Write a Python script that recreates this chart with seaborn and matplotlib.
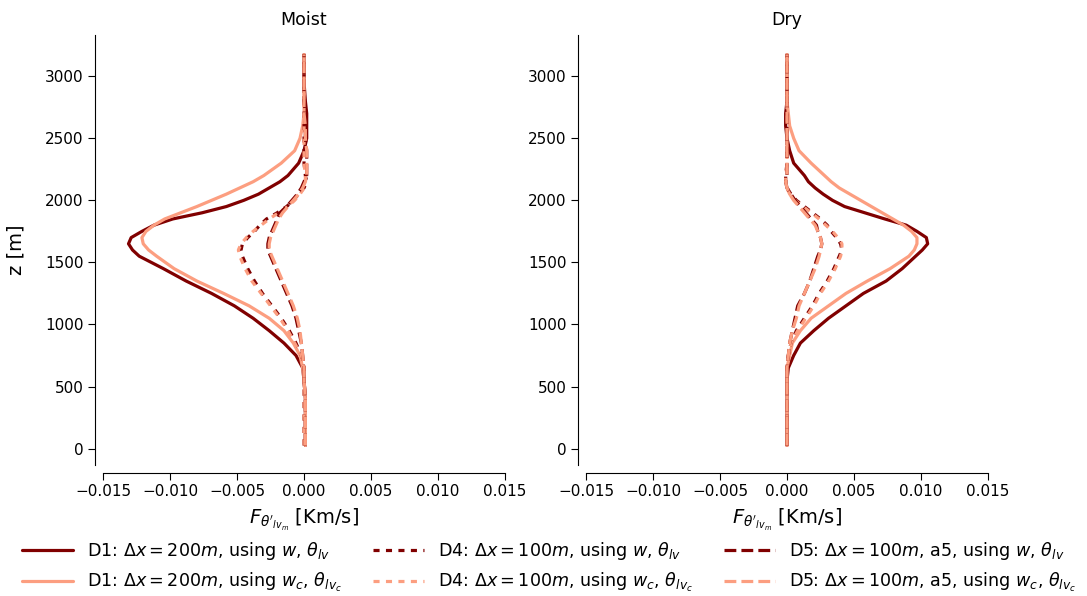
import numpy as np
import pandas as pd
import matplotlib
matplotlib.use("Agg")
import matplotlib.pyplot as plt
import seaborn as sns

# Heights [m]
Z = [25, 200, 400, 550, 650, 750, 850, 950, 1050, 1150, 1250, 1350, 1450, 1550,
     1600, 1650, 1700, 1750, 1800, 1850, 1900, 1950, 2000, 2050, 2100, 2150,
     2200, 2300, 2400, 2500, 2600, 2700, 2800, 2950, 3100, 3175]

# Moist panel
moist_D1_w = [0.0001, 0.0001, 0.0001, 0.0000, -0.0001, -0.0006, -0.0015, -0.0026, -0.0038,
              -0.0052, -0.0069, -0.0088, -0.0105, -0.0123, -0.0128, -0.0131, -0.0129, -0.0121,
              -0.0112, -0.0098, -0.0076, -0.0058, -0.0045, -0.0034, -0.0026, -0.0018, -0.0012,
              -0.0004, 0.0000, 0.0002, 0.0002, 0.0002, 0.0001, 0.0000, 0.0000, 0.0000]
moist_D1_wc = [0.0001, 0.0001, 0.0001, 0.0000, -0.0001, -0.0003, -0.0008, -0.0015, -0.0026,
               -0.0041, -0.0060, -0.0080, -0.0097, -0.0110, -0.0116, -0.0120, -0.0121, -0.0118,
               -0.0112, -0.0104, -0.0092, -0.0080, -0.0069, -0.0058, -0.0048, -0.0038, -0.0030,
               -0.0017, -0.0007, -0.0003, -0.0001, 0.0000, 0.0000, 0.0000, 0.0000, 0.0000]
moist_D4_w = [0.0000, 0.0000, 0.0000, 0.0000, 0.0000, -0.0002, -0.0006, -0.0011, -0.0017,
              -0.0024, -0.0031, -0.0037, -0.0042, -0.0046, -0.0047, -0.0046, -0.0042, -0.0037,
              -0.0033, -0.0028, -0.0020, -0.0013, -0.0008, -0.0004, 0.0000, 0.0002, 0.0001,
              0.0000, 0.0000, 0.0000, 0.0000, 0.0000, 0.0000, 0.0000, 0.0000, 0.0000]
moist_D4_wc = [0.0000, 0.0000, 0.0000, 0.0000, 0.0000, -0.0002, -0.0007, -0.0012, -0.0018,
               -0.0025, -0.0032, -0.0039, -0.0044, -0.0048, -0.0049, -0.0047, -0.0043, -0.0038,
               -0.0032, -0.0026, -0.0019, -0.0012, -0.0007, -0.0003, 0.0000, 0.0001, 0.0001,
               0.0000, 0.0000, 0.0000, 0.0000, 0.0000, 0.0000, 0.0000, 0.0000, 0.0000]
moist_D5_w = [0.0001, 0.0001, 0.0001, 0.0000, 0.0000, -0.0001, -0.0002, -0.0004, -0.0006,
              -0.0009, -0.0013, -0.0017, -0.0021, -0.0025, -0.0027, -0.0027, -0.0026, -0.0024,
              -0.0022, -0.0020, -0.0018, -0.0013, -0.0009, -0.0005, -0.0002, 0.0000, 0.0002,
              0.0002, 0.0002, 0.0001, 0.0001, 0.0001, 0.0000, 0.0000, 0.0000, 0.0000]
moist_D5_wc = [0.0001, 0.0001, 0.0001, 0.0000, 0.0000, -0.0001, -0.0002, -0.0003, -0.0005,
               -0.0008, -0.0012, -0.0016, -0.0020, -0.0024, -0.0026, -0.0026, -0.0025, -0.0023,
               -0.0021, -0.0019, -0.0016, -0.0012, -0.0008, -0.0004, -0.0001, 0.0001, 0.0002,
               0.0002, 0.0002, 0.0001, 0.0001, 0.0000, 0.0000, 0.0000, 0.0000, 0.0000]

# Dry panel
dry_D1_w = [0.0000, 0.0000, 0.0000, 0.0000, 0.0001, 0.0005, 0.0010, 0.0020, 0.0031,
            0.0044, 0.0057, 0.0074, 0.0086, 0.0096, 0.0101, 0.0105, 0.0104, 0.0097,
            0.0089, 0.0073, 0.0058, 0.0043, 0.0034, 0.0027, 0.0021, 0.0016, 0.0013,
            0.0005, 0.0002, 0.0000, -0.0001, -0.0001, 0.0000, 0.0000, 0.0000, 0.0000]
dry_D1_wc = [0.0000, 0.0000, 0.0000, 0.0000, 0.0000, 0.0002, 0.0004, 0.0010, 0.0018,
             0.0031, 0.0044, 0.0060, 0.0077, 0.0091, 0.0095, 0.0097, 0.0097, 0.0093,
             0.0087, 0.0079, 0.0071, 0.0063, 0.0055, 0.0047, 0.0039, 0.0033, 0.0028,
             0.0018, 0.0009, 0.0005, 0.0002, 0.0001, 0.0000, 0.0000, 0.0000, 0.0000]
dry_D4_w = [0.0000, 0.0000, 0.0000, 0.0000, 0.0000, 0.0001, 0.0003, 0.0007, 0.0013,
            0.0019, 0.0024, 0.0030, 0.0035, 0.0039, 0.0041, 0.0040, 0.0037, 0.0033,
            0.0030, 0.0025, 0.0019, 0.0013, 0.0007, 0.0003, 0.0000, -0.0001, -0.0001,
            0.0000, 0.0000, 0.0000, 0.0000, 0.0000, 0.0000, 0.0000, 0.0000, 0.0000]
dry_D4_wc = [0.0000, 0.0000, 0.0000, 0.0000, 0.0000, 0.0001, 0.0003, 0.0008, 0.0014,
             0.0020, 0.0025, 0.0031, 0.0036, 0.0040, 0.0041, 0.0041, 0.0038, 0.0034,
             0.0029, 0.0024, 0.0018, 0.0012, 0.0006, 0.0002, 0.0000, -0.0001, -0.0001,
             0.0000, 0.0000, 0.0000, 0.0000, 0.0000, 0.0000, 0.0000, 0.0000, 0.0000]
dry_D5_w = [0.0000, 0.0000, 0.0000, 0.0000, 0.0000, 0.0001, 0.0002, 0.0004, 0.0006,
            0.0008, 0.0013, 0.0017, 0.0020, 0.0023, 0.0025, 0.0026, 0.0025, 0.0023,
            0.0022, 0.0018, 0.0014, 0.0010, 0.0006, 0.0003, 0.0000, -0.0001, 0.0000,
            0.0000, 0.0000, 0.0000, 0.0000, 0.0000, 0.0000, 0.0000, 0.0000, 0.0000]
dry_D5_wc = [0.0000, 0.0000, 0.0000, 0.0000, 0.0000, 0.0001, 0.0002, 0.0004, 0.0007,
             0.0009, 0.0013, 0.0017, 0.0021, 0.0024, 0.0025, 0.0026, 0.0025, 0.0023,
             0.0021, 0.0017, 0.0013, 0.0009, 0.0005, 0.0002, 0.0000, -0.0001, 0.0000,
             0.0000, 0.0000, 0.0000, 0.0000, 0.0000, 0.0000, 0.0000, 0.0000, 0.0000]

titles = ["Moist", "Dry"]
labels = [r"D1: $\Delta x = 200m$, using $w$, $\theta_{lv}$",
          r"D1: $\Delta x = 200m$, using $w_c$, $\theta_{lv_c}$",
          r"D4: $\Delta x = 100m$, using $w$, $\theta_{lv}$",
          r"D4: $\Delta x = 100m$, using $w_c$, $\theta_{lv_c}$",
          r"D5: $\Delta x = 100m$, a5, using $w$, $\theta_{lv}$",
          r"D5: $\Delta x = 100m$, a5, using $w_c$, $\theta_{lv_c}$"]
xticks = [-0.015, -0.010, -0.005, 0.000, 0.005, 0.010, 0.015]
yticks = [0, 500, 1000, 1500, 2000, 2500, 3000]

dark = "#800000"
light = "#fc9e80"
colors = [dark, light, dark, light, dark, light]
styles = ["-", "-", (0, (1.9, 2.0)), (0, (1.9, 2.0)), "--", "--"]

panels = [
    [moist_D1_w, moist_D1_wc, moist_D4_w, moist_D4_wc, moist_D5_w, moist_D5_wc],
    [dry_D1_w, dry_D1_wc, dry_D4_w, dry_D4_wc, dry_D5_w, dry_D5_wc],
]

sns.set_style("ticks", rc={"text.color": "black", "axes.labelcolor": "black",
                           "xtick.color": "black", "ytick.color": "black",
                           "axes.edgecolor": "black"})
plt.rcParams["font.family"] = ["DejaVu Sans"]
plt.rcParams["xtick.labelsize"] = 11
plt.rcParams["ytick.labelsize"] = 11

fig = plt.figure(figsize=(10.87, 5.96), dpi=100)
ax1 = fig.add_axes([0.0948, 0.2198, 0.3698, 0.7215])
ax2 = fig.add_axes([0.5391, 0.2198, 0.3698, 0.7215], sharey=ax1)
axes = [ax1, ax2]

for ax, series, title in zip(axes, panels, titles):
    for vals, c, ls, lab in zip(series, colors, styles, labels):
        df = pd.DataFrame({"x": vals, "z": Z})
        sns.lineplot(data=df, x="x", y="z", orient="y", color=c, linestyle=ls,
                     linewidth=2.3, label=lab, ax=ax, legend=False)
    ax.set_xlim(-0.015, 0.015)
    ax.set_xticks(xticks)
    ax.set_xticklabels([f"{t:.3f}".replace("-", "\u2212") for t in xticks])
    ax.set_yticks(yticks)
    ax.set_title(title, fontsize=12.5, pad=7.5)
    ax.set_xlabel(r"$F_{\theta'_{lv_m}}$ [Km/s]", fontsize=14, labelpad=5)
    ax.set_ylabel("")
    ax.tick_params(length=5)

ax1.set_ylabel("z [m]", fontsize=14, labelpad=14)
plt.setp(ax2.get_yticklabels(), visible=False)
sns.despine(fig=fig, offset=5.5)

handles, labs = ax1.get_legend_handles_labels()
fig.legend(handles, labs, loc="lower center", bbox_to_anchor=(0.505, -0.023), ncol=3,
           frameon=False, fontsize=12.6, handlelength=2.9, handletextpad=0.8,
           columnspacing=1.8, labelspacing=0.5)

fig.savefig("out.png", dpi=100)
